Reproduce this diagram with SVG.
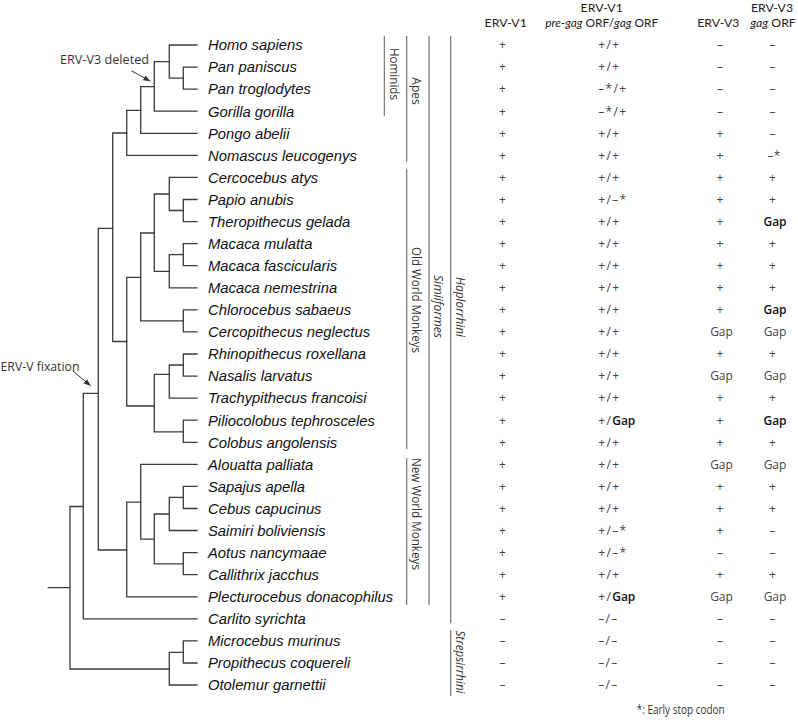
<svg xmlns="http://www.w3.org/2000/svg" width="798" height="728" viewBox="0 0 798 728">
<defs>
<style>
.tree{fill:none;stroke:#3a3a3a;stroke-width:1.3;stroke-linecap:square}
.bar{fill:none;stroke:#666;stroke-width:1.1}
.sp{font-family:"Liberation Sans",Arial,sans-serif;font-style:italic;font-size:14.8px;fill:#111}
.lab{font-family:"Open Sans","Noto Sans",sans-serif;font-size:12px;fill:#333}
.hd{font-family:Lato,"Open Sans",sans-serif;font-size:12.3px;fill:#222;text-anchor:middle}
.c{font-family:"Open Sans","Noto Sans",sans-serif;font-size:12px;fill:#444;text-anchor:middle}
.l{font-family:"Open Sans","Noto Sans",sans-serif;font-size:12px;fill:#444;letter-spacing:1.3px}
.b{font-weight:600;fill:#111;letter-spacing:0}
.ann{font-family:"Open Sans","Noto Sans",sans-serif;font-size:12.5px;fill:#333}
.arr{fill:none;stroke:#333;stroke-width:1}
</style>
<marker id="ah" viewBox="0 0 10 10" refX="10" refY="5" markerWidth="7" markerHeight="7" orient="auto" markerUnits="userSpaceOnUse"><path d="M0,1 L10,5 L0,9 Z" fill="#333"/></marker>
</defs>
<rect width="798" height="728" fill="#fff"/>

<g id="connectors">
<g class="tree">
<path d="M183.3,67.1V89.1M183.3,67.1H197M183.3,89.1H197"/>
<path d="M169.3,45V78.1M169.3,45H197M169.3,78.1H183.3"/>
<path d="M154.3,61.6V111.2M154.3,61.6H169.3M154.3,111.2H197"/>
<path d="M140.7,86.6V133.3M140.7,86.6H154.3M140.7,133.3H197"/>
<path d="M126.7,110.3V155.4M126.7,110.3H140.7M126.7,155.4H197"/>
<path d="M183.3,199.5V221.6M183.3,199.5H197M183.3,221.6H197"/>
<path d="M169.3,177.4V210.5M169.3,177.4H197M169.3,210.5H183.3"/>
<path d="M183.3,243.6V265.7M183.3,243.6H197M183.3,265.7H197"/>
<path d="M169.3,254.7V287.8M169.3,254.7H183.3M169.3,287.8H197"/>
<path d="M154.3,194V271.4M154.3,194H169.3M154.3,271.4H169.3"/>
<path d="M183.3,309.8V331.9M183.3,309.8H197M183.3,331.9H197"/>
<path d="M140.7,233V320.9M140.7,233H154.3M140.7,320.9H183.3"/>
<path d="M183.3,354V376.1M183.3,354H197M183.3,376.1H197"/>
<path d="M169.3,365V398.1M169.3,365H183.3M169.3,398.1H197"/>
<path d="M183.3,420.2V442.3M183.3,420.2H197M183.3,442.3H197"/>
<path d="M154.3,374.3V431.8M154.3,374.3H169.3M154.3,431.8H183.3"/>
<path d="M126.7,277.4V406M126.7,277.4H140.7M126.7,406H154.3"/>
<path d="M112.7,133V341.5M112.7,133H126.7M112.7,341.5H126.7"/>
<path d="M183.3,486.4V508.5M183.3,486.4H197M183.3,508.5H197"/>
<path d="M169.3,497.4V530.5M169.3,497.4H183.3M169.3,530.5H197"/>
<path d="M183.3,552.6V574.7M183.3,552.6H197M183.3,574.7H197"/>
<path d="M154.3,514V563.8M154.3,514H169.3M154.3,563.8H183.3"/>
<path d="M140.7,464.3V539.2M140.7,464.3H197M140.7,539.2H154.3"/>
<path d="M126.7,502.2V596.8M126.7,502.2H140.7M126.7,596.8H197"/>
<path d="M98.3,228.3V550M98.3,228.3H112.7M98.3,550H126.7"/>
<path d="M83.3,393.3V618.8M83.3,393.3H98.3M83.3,618.8H197"/>
<path d="M183.3,640.9V663M183.3,640.9H197M183.3,663H197"/>
<path d="M169.3,652.3V685M169.3,652.3H183.3M169.3,685H197"/>
<path d="M70,506.5V669M70,506.5H83.3M70,669H169.3M48.3,587.6H70"/>
</g>
<g class="bar">
<path d="M384.3,36V115.7"/>
<path d="M406.7,36V161.7"/>
<path d="M406.7,169V449.3"/>
<path d="M406.7,458.3V605"/>
<path d="M429,36V605"/>
<path d="M450.7,36V623.3"/>
<path d="M450.7,630V696"/>
</g>
<path class="arr" d="M131.5,70.8L150.3,81.3" marker-end="url(#ah)"/>
<path class="arr" d="M72.7,370.8L90.7,385.8" marker-end="url(#ah)"/>
</g>

<g id="annotations">
<text class="ann" x="60" y="64" textLength="89" lengthAdjust="spacingAndGlyphs">ERV-V3 deleted</text>
<text class="ann" x="0.5" y="370.5" textLength="79" lengthAdjust="spacingAndGlyphs">ERV-V fixation</text>
<text class="lab" x="636.7" y="714" textLength="88" lengthAdjust="spacingAndGlyphs">*: Early stop codon</text>
</g>

<g id="clade-labels" class="lab">
<text transform="translate(389.5,74) rotate(90)" text-anchor="middle" textLength="52" lengthAdjust="spacingAndGlyphs">Hominids</text>
<text transform="translate(411.5,91) rotate(90)" text-anchor="middle">Apes</text>
<text transform="translate(411.5,300) rotate(90)" text-anchor="middle" textLength="106" lengthAdjust="spacingAndGlyphs">Old World Monkeys</text>
<text transform="translate(411.5,514) rotate(90)" text-anchor="middle" textLength="112" lengthAdjust="spacingAndGlyphs">New World Monkeys</text>
<text transform="translate(433.8,306.5) rotate(90)" text-anchor="middle" font-style="italic" textLength="63" lengthAdjust="spacingAndGlyphs">Simiiformes</text>
<text transform="translate(455.5,307) rotate(90)" text-anchor="middle" font-style="italic" textLength="60" lengthAdjust="spacingAndGlyphs">Haplorrhini</text>
<text transform="translate(455.5,662) rotate(90)" text-anchor="middle" font-style="italic" textLength="63" lengthAdjust="spacingAndGlyphs">Strepsirrhini</text>
</g>

<g id="header">
<text class="hd" x="505.7" y="27">ERV-V1</text>
<text class="hd" x="601.7" y="12">ERV-V1</text>
<text class="hd" x="601.7" y="27" textLength="113" lengthAdjust="spacingAndGlyphs"><tspan font-style="italic">pre-gag</tspan> ORF/<tspan font-style="italic">gag</tspan> ORF</text>
<text class="hd" x="718.3" y="27">ERV-V3</text>
<text class="hd" x="772" y="12">ERV-V3</text>
<text class="hd" x="773" y="27"><tspan font-style="italic">gag</tspan> ORF</text>
</g>

<g id="taxa" class="sp">
<g id="homo-sapiens"><text x="208" y="50.3">Homo sapiens</text></g>
<g id="pan-paniscus"><text x="208" y="72.4">Pan paniscus</text></g>
<g id="pan-troglodytes"><text x="208" y="94.4">Pan troglodytes</text></g>
<g id="gorilla-gorilla"><text x="208" y="116.5">Gorilla gorilla</text></g>
<g id="pongo-abelii"><text x="208" y="138.6">Pongo abelii</text></g>
<g id="nomascus-leucogenys"><text x="208" y="160.7">Nomascus leucogenys</text></g>
<g id="cercocebus-atys"><text x="208" y="182.7">Cercocebus atys</text></g>
<g id="papio-anubis"><text x="208" y="204.8">Papio anubis</text></g>
<g id="theropithecus-gelada"><text x="208" y="226.9">Theropithecus gelada</text></g>
<g id="macaca-mulatta"><text x="208" y="248.9">Macaca mulatta</text></g>
<g id="macaca-fascicularis"><text x="208" y="271">Macaca fascicularis</text></g>
<g id="macaca-nemestrina"><text x="208" y="293.1">Macaca nemestrina</text></g>
<g id="chlorocebus-sabaeus"><text x="208" y="315.1">Chlorocebus sabaeus</text></g>
<g id="cercopithecus-neglectus"><text x="208" y="337.2">Cercopithecus neglectus</text></g>
<g id="rhinopithecus-roxellana"><text x="208" y="359.3">Rhinopithecus roxellana</text></g>
<g id="nasalis-larvatus"><text x="208" y="381.4">Nasalis larvatus</text></g>
<g id="trachypithecus-francoisi"><text x="208" y="403.4">Trachypithecus francoisi</text></g>
<g id="piliocolobus-tephrosceles"><text x="208" y="425.5">Piliocolobus tephrosceles</text></g>
<g id="colobus-angolensis"><text x="208" y="447.6">Colobus angolensis</text></g>
<g id="alouatta-palliata"><text x="208" y="469.6">Alouatta palliata</text></g>
<g id="sapajus-apella"><text x="208" y="491.7">Sapajus apella</text></g>
<g id="cebus-capucinus"><text x="208" y="513.8">Cebus capucinus</text></g>
<g id="saimiri-boliviensis"><text x="208" y="535.8">Saimiri boliviensis</text></g>
<g id="aotus-nancymaae"><text x="208" y="557.9">Aotus nancymaae</text></g>
<g id="callithrix-jacchus"><text x="208" y="580">Callithrix jacchus</text></g>
<g id="plecturocebus-donacophilus"><text x="208" y="602.1">Plecturocebus donacophilus</text></g>
<g id="carlito-syrichta"><text x="208" y="624.1">Carlito syrichta</text></g>
<g id="microcebus-murinus"><text x="208" y="646.2">Microcebus murinus</text></g>
<g id="propithecus-coquereli"><text x="208" y="668.3">Propithecus coquereli</text></g>
<g id="otolemur-garnettii"><text x="208" y="690.3">Otolemur garnettii</text></g>
</g>

<g id="table">
<g id="col-erv-v1" class="c">
<text x="502.5" y="49.3">+</text><text x="502.5" y="71.4">+</text><text x="502.5" y="93.4">+</text><text x="502.5" y="115.5">+</text><text x="502.5" y="137.6">+</text><text x="502.5" y="159.7">+</text><text x="502.5" y="181.7">+</text><text x="502.5" y="203.8">+</text><text x="502.5" y="225.9">+</text><text x="502.5" y="247.9">+</text><text x="502.5" y="270">+</text><text x="502.5" y="292.1">+</text><text x="502.5" y="314.1">+</text><text x="502.5" y="336.2">+</text><text x="502.5" y="358.3">+</text><text x="502.5" y="380.4">+</text><text x="502.5" y="402.4">+</text><text x="502.5" y="424.5">+</text><text x="502.5" y="446.6">+</text><text x="502.5" y="468.6">+</text><text x="502.5" y="490.7">+</text><text x="502.5" y="512.8">+</text><text x="502.5" y="534.8">+</text><text x="502.5" y="556.9">+</text><text x="502.5" y="579">+</text><text x="502.5" y="601.1">+</text><text x="502.5" y="623.1">–</text><text x="502.5" y="645.2">–</text><text x="502.5" y="667.3">–</text><text x="502.5" y="689.3">–</text>
</g>
<g id="col-erv-v1-orf" class="l">
<text x="598.3" y="49.3">+/+</text><text x="598.3" y="71.4">+/+</text><text x="598.3" y="93.4">–*/+</text><text x="598.3" y="115.5">–*/+</text><text x="598.3" y="137.6">+/+</text><text x="598.3" y="159.7">+/+</text><text x="598.3" y="181.7">+/+</text><text x="598.3" y="203.8">+/–*</text><text x="598.3" y="225.9">+/+</text><text x="598.3" y="247.9">+/+</text><text x="598.3" y="270">+/+</text><text x="598.3" y="292.1">+/+</text><text x="598.3" y="314.1">+/+</text><text x="598.3" y="336.2">+/+</text><text x="598.3" y="358.3">+/+</text><text x="598.3" y="380.4">+/+</text><text x="598.3" y="402.4">+/+</text><text x="598.3" y="424.5">+/<tspan class="b">Gap</tspan></text><text x="598.3" y="446.6">+/+</text><text x="598.3" y="468.6">+/+</text><text x="598.3" y="490.7">+/+</text><text x="598.3" y="512.8">+/+</text><text x="598.3" y="534.8">+/–*</text><text x="598.3" y="556.9">+/–*</text><text x="598.3" y="579">+/+</text><text x="598.3" y="601.1">+/<tspan class="b">Gap</tspan></text><text x="598.3" y="623.1">–/–</text><text x="598.3" y="645.2">–/–</text><text x="598.3" y="667.3">–/–</text><text x="598.3" y="689.3">–/–</text>
</g>
<g id="col-erv-v3" class="c">
<text x="720" y="49.3">–</text><text x="720" y="71.4">–</text><text x="720" y="93.4">–</text><text x="720" y="115.5">–</text><text x="720" y="137.6">+</text><text x="720" y="159.7">+</text><text x="720" y="181.7">+</text><text x="720" y="203.8">+</text><text x="720" y="225.9">+</text><text x="720" y="247.9">+</text><text x="720" y="270">+</text><text x="720" y="292.1">+</text><text x="720" y="314.1">+</text><text x="721.5" y="336.2">Gap</text><text x="720" y="358.3">+</text><text x="721.5" y="380.4">Gap</text><text x="720" y="402.4">+</text><text x="720" y="424.5">+</text><text x="720" y="446.6">+</text><text x="721.5" y="468.6">Gap</text><text x="720" y="490.7">+</text><text x="720" y="512.8">+</text><text x="720" y="534.8">+</text><text x="720" y="556.9">–</text><text x="720" y="579">+</text><text x="721.5" y="601.1">Gap</text><text x="720" y="623.1">–</text><text x="720" y="645.2">–</text><text x="720" y="667.3">–</text><text x="720" y="689.3">–</text>
</g>
<g id="col-erv-v3-orf" class="c">
<text x="772.5" y="49.3">–</text><text x="772.5" y="71.4">–</text><text x="772.5" y="93.4">–</text><text x="772.5" y="115.5">–</text><text x="772.5" y="137.6">–</text><text x="774" y="159.7">–*</text><text x="772.5" y="181.7">+</text><text x="772.5" y="203.8">+</text><text class="b" x="775" y="225.9">Gap</text><text x="772.5" y="247.9">+</text><text x="772.5" y="270">+</text><text x="772.5" y="292.1">+</text><text class="b" x="775" y="314.1">Gap</text><text x="775" y="336.2">Gap</text><text x="772.5" y="358.3">+</text><text x="775" y="380.4">Gap</text><text x="772.5" y="402.4">+</text><text class="b" x="775" y="424.5">Gap</text><text x="772.5" y="446.6">+</text><text x="775" y="468.6">Gap</text><text x="772.5" y="490.7">+</text><text x="772.5" y="512.8">+</text><text x="772.5" y="534.8">–</text><text x="772.5" y="556.9">–</text><text x="772.5" y="579">+</text><text x="775" y="601.1">Gap</text><text x="772.5" y="623.1">–</text><text x="772.5" y="645.2">–</text><text x="772.5" y="667.3">–</text><text x="772.5" y="689.3">–</text>
</g>
</g>
</svg>
